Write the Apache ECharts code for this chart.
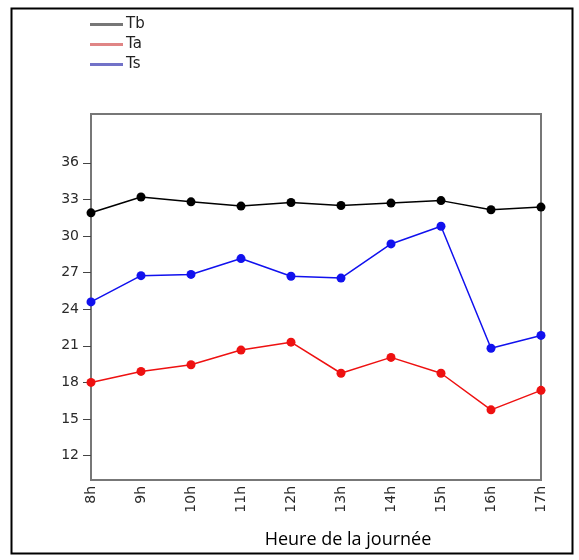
<!DOCTYPE html>
<html>
<head>
<meta charset="utf-8">
<script src="https://cdn.jsdelivr.net/npm/echarts@6/dist/echarts.min.js"></script>
<style>
  html, body { margin: 0; padding: 0; background: #fff; }
  #chart { width: 579px; height: 560px; }
</style>
</head>
<body>
<div id="chart"></div>
<script>
// Hours of the day (x axis)
const hours = ['8h', '9h', '10h', '11h', '12h', '13h', '14h', '15h', '16h', '17h'];
// Temperature series
const tb = [31.9, 33.2, 32.8, 32.45, 32.75, 32.5, 32.7, 32.9, 32.15, 32.37];
const ta = [18.0, 18.9, 19.45, 20.65, 21.3, 18.75, 20.05, 18.75, 15.75, 17.35];
const ts = [24.6, 26.75, 26.85, 28.15, 26.7, 26.55, 29.35, 30.8, 20.8, 21.85];
// Value axis ticks
const yTicks = [12, 15, 18, 21, 24, 27, 30, 33, 36];
const xTitle = 'Heure de la journée';

const chart = echarts.init(document.getElementById('chart'), null, { renderer: 'canvas' });

function lineSeries(name, data, color) {
  return {
    name: name,
    type: 'line',
    data: data,
    symbol: 'circle',
    symbolSize: 9,
    lineStyle: { color: color, width: 1.5 },
    itemStyle: { color: color },
    emphasis: { disabled: true },
    animation: false
  };
}

chart.setOption({
  animation: false,
  textStyle: { fontFamily: 'DejaVu Sans' },
  graphic: [{
    type: 'rect',
    shape: { x: 11.5, y: 8.5, width: 561, height: 545 },
    style: { fill: 'none', stroke: '#000', lineWidth: 2 }
  }, {
    type: 'text',
    x: 348,
    y: 540,
    style: {
      text: xTitle,
      fontFamily: 'Open Sans',
      fontSize: 18,
      fill: '#000',
      align: 'center',
      verticalAlign: 'middle'
    }
  }],
  legend: {
    left: 90,
    top: 17,
    padding: 0,
    orient: 'vertical',
    itemGap: 5,
    itemWidth: 33,
    itemHeight: 3,
    icon: 'rect',
    textStyle: { fontSize: 15, color: '#222', padding: [0, 0, 0, -2] },
    data: [
      { name: 'Tb', itemStyle: { color: '#777777' } },
      { name: 'Ta', itemStyle: { color: '#e08585' } },
      { name: 'Ts', itemStyle: { color: '#7272c8' } }
    ]
  },
  grid: {
    left: 91, top: 114, width: 450, height: 366,
    show: true, borderColor: '#777', borderWidth: 2, backgroundColor: 'transparent'
  },
  xAxis: {
    type: 'category',
    data: hours,
    boundaryGap: false,
    axisLine: { lineStyle: { color: '#777', width: 2 } },
    axisTick: { show: false },
    axisLabel: { rotate: 90, fontSize: 14, color: '#2a2a2a', margin: 6 },
    splitLine: { show: false }
  },
  yAxis: {
    type: 'value',
    min: 10,
    max: 40,
    axisLine: { show: true, lineStyle: { color: '#777', width: 2 } },
    axisTick: { show: true, length: 8, customValues: yTicks, lineStyle: { color: '#444', width: 1 } },
    axisLabel: { fontSize: 14, color: '#2a2a2a', margin: 12, customValues: yTicks },
    splitLine: { show: false }
  },
  series: [
    lineSeries('Tb', tb, '#000000'),
    lineSeries('Ta', ta, '#ee1111'),
    lineSeries('Ts', ts, '#1111ee')
  ]
});
</script>
</body>
</html>
